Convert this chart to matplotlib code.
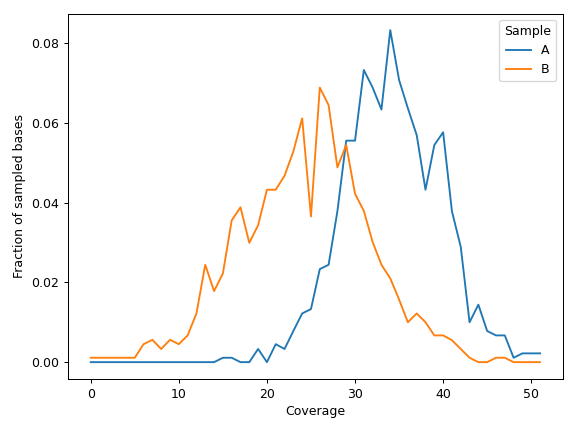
import matplotlib
matplotlib.use("Agg")
import matplotlib.pyplot as plt

coverage = list(range(52))
sample_a = [0, 0, 0, 0, 0, 0, 0, 0, 0, 0,
            0, 0, 0, 0, 0, 0.0011, 0.0011, 0, 0, 0.0033,
            0, 0.0045, 0.0033, 0.0078, 0.0122, 0.0133, 0.0233, 0.0244, 0.0378, 0.0555,
            0.0555, 0.0732, 0.0688, 0.0633, 0.0832, 0.0707, 0.0636, 0.0569, 0.0432, 0.0544,
            0.0576, 0.0378, 0.0289, 0.0100, 0.0144, 0.0078, 0.0067, 0.0067, 0.0011, 0.0022,
            0.0022, 0.0022]
sample_b = [0.0011, 0.0011, 0.0011, 0.0011, 0.0011, 0.0011, 0.0045, 0.0056, 0.0033, 0.0056,
            0.0045, 0.0067, 0.0122, 0.0244, 0.0178, 0.0222, 0.0355, 0.0388, 0.0299, 0.0343,
            0.0432, 0.0432, 0.0467, 0.0528, 0.0611, 0.0365, 0.0688, 0.0644, 0.0488, 0.0544,
            0.0422, 0.0379, 0.0301, 0.0244, 0.0210, 0.0157, 0.0100, 0.0122, 0.0100, 0.0067,
            0.0067, 0.0055, 0.0033, 0.0011, 0, 0, 0.0011, 0.0011, 0, 0,
            0, 0]

fig, ax = plt.subplots(figsize=(6.4, 4.8), dpi=90)
ax.plot(coverage, sample_a, color="#1f77b4", label="A")
ax.plot(coverage, sample_b, color="#ff7f0e", label="B")
ax.set_xlabel("Coverage")
ax.set_ylabel("Fraction of sampled bases")
ax.legend(title="Sample", loc="upper right")
fig.tight_layout()
fig.savefig("out.png")
